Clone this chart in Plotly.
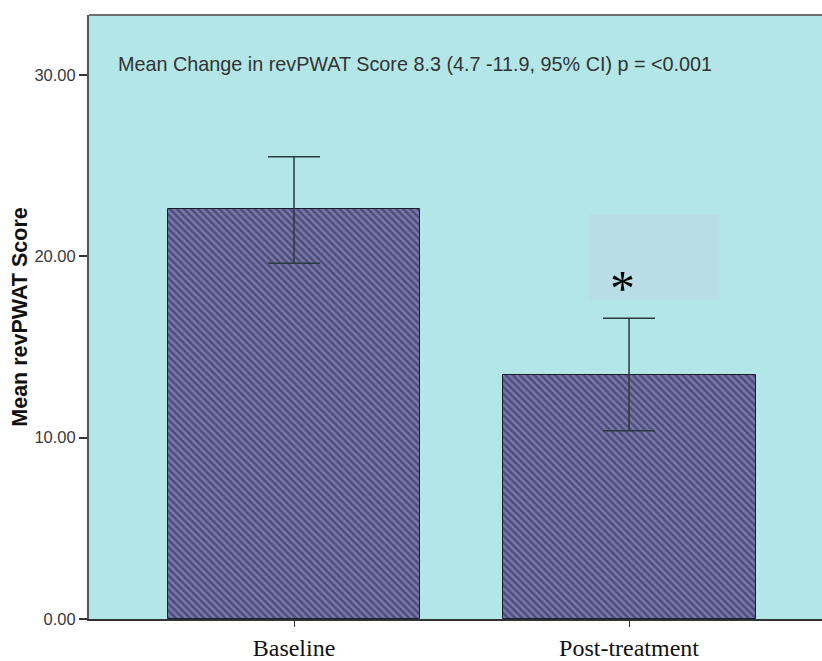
import plotly.graph_objects as go

categories = ["Baseline", "Post-treatment"]
means = [22.58, 13.48]
ci_upper = [25.49, 16.58]
ci_lower = [19.62, 10.38]
y_ticks = [0, 10, 20, 30]
y_tick_labels = ["0.00", "10.00", "20.00", "30.00"]
annotation_text = "Mean Change in revPWAT Score 8.3 (4.7 -11.9, 95% CI) p = <0.001"
y_title = "Mean revPWAT Score"

x_idx = list(range(len(categories)))
err_plus = [u - m for u, m in zip(ci_upper, means)]
err_minus = [m - l for m, l in zip(means, ci_lower)]

fig = go.Figure()
fig.add_trace(go.Bar(
    x=x_idx, y=means, width=0.755,
    marker=dict(
        color="#7474a8",
        line=dict(color="#1c1c30", width=1),
        pattern=dict(shape="\\", fgcolor="#222244", bgcolor="#7878ac", size=5, solidity=0.5),
    ),
    error_y=dict(type="data", symmetric=False, array=err_plus, arrayminus=err_minus,
                 color="#2a3a3e", thickness=1.5, width=26),
    showlegend=False,
))

# highlighted region behind asterisk
fig.add_shape(type="rect", xref="x", yref="y", x0=0.881, x1=1.269, y0=17.58, y1=22.31,
              fillcolor="#b8dde6", line=dict(width=0), layer="below")
fig.add_annotation(x=0.979, y=18.25, xref="x", yref="y", text="*", showarrow=False,
                   font=dict(family="Liberation Serif", size=50, color="#000000"))

fig.add_annotation(x=-0.531, y=30.6, xref="x", yref="y", text=annotation_text,
                   showarrow=False, xanchor="left", yanchor="middle",
                   font=dict(family="Liberation Sans, Arial", size=19.8, color="#333333"))

# top border
fig.add_shape(type="line", xref="paper", yref="paper", x0=0, x1=1, y0=1, y1=1,
              line=dict(color="#6e6e6e", width=2))

fig.update_layout(
    width=822, height=661,
    margin=dict(l=89, r=0, t=15, b=40),
    paper_bgcolor="#ffffff",
    plot_bgcolor="#b3e6e6",
    bargap=0,
)
fig.update_xaxes(
    range=[-0.612, 1.576], tickvals=x_idx, ticktext=categories,
    showgrid=False, zeroline=False, showline=True, linecolor="#333333", linewidth=2,
    ticks="outside", ticklen=6, tickcolor="#333333", tickwidth=1,
    tickfont=dict(family="Liberation Serif, Times New Roman", size=24, color="#111111"),
)
fig.update_yaxes(
    range=[0, 33.3], tickvals=y_ticks, ticktext=y_tick_labels,
    showgrid=False, zeroline=False, showline=True, linecolor="#555555", linewidth=2,
    ticks="outside", ticklen=8, tickcolor="#333333", tickwidth=2,
    tickfont=dict(family="Liberation Sans, Arial", size=16.5, color="#3a3a3a"),
    title=dict(text="<b>" + y_title + "</b>", standoff=1,
               font=dict(family="Liberation Sans, Arial", size=21.5, color="#111111")),
)

fig.write_html("out.html")
